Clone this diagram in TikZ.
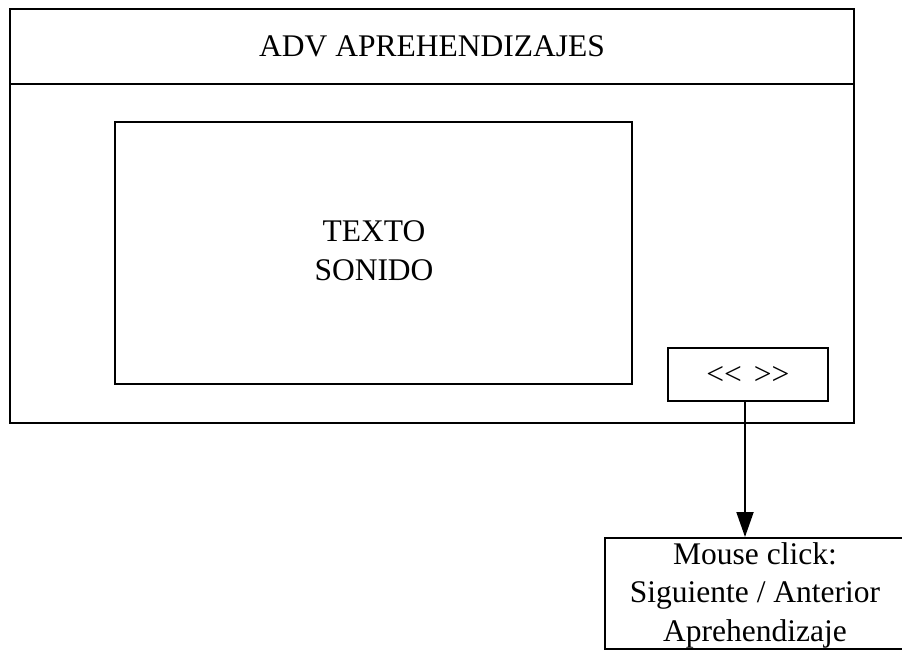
\documentclass[tikz,border=0pt]{standalone}
\usepackage{fontspec}
\setmainfont{Liberation Serif}
\usetikzlibrary{arrows.meta}
\tikzset{
  box/.style={draw=black, line width=1.9pt, inner sep=0pt, fill=none},
  lbl/.style={inner sep=0pt, font=\fontsize{31.5}{38.5}\selectfont, align=center},
  conn/.style={line width=1.9pt, -{Triangle[width=17pt,length=25pt]}}
}
\begin{document}
\begin{tikzpicture}[x=1pt,y=-1pt]
\useasboundingbox (0,0) rectangle (902,649);
\clip (0,0) rectangle (902,649);
\fill[white] (0,0) rectangle (902,649);
% outer window
\node[box, minimum width=844pt, minimum height=414pt] (outer) at (432,216) {};
\coordinate (hdl) at (10,84);
\coordinate (hdr) at (854,84);
\draw[line width=1.9pt] (hdl) -- (hdr);
\node[lbl] (title) at (432,46) {ADV APREHENDIZAJES};
% content box
\node[box, minimum width=517pt, minimum height=262pt] (content) at (373.5,253) {};
\node[lbl] (ctext) at (374,250.5) {TEXTO\\SONIDO};
% nav button
\node[box, minimum width=160pt, minimum height=53pt] (nav) at (748,374.5) {};
\node[lbl] (navtext) at (748,375) {<\kern0pt<\hspace{12pt}>\kern0pt>};
% bottom note
\node[box, minimum width=320pt, minimum height=111pt, anchor=north west] (note) at (604,537) {};
\node[lbl, anchor=north] (notetext) at (755,542) {Mouse click:\\Siguiente / Anterior\\Aprehendizaje};
% connector
\draw[conn] (nav.south -| 745,0) -- (note.north -| 745,0);
\end{tikzpicture}
\end{document}
